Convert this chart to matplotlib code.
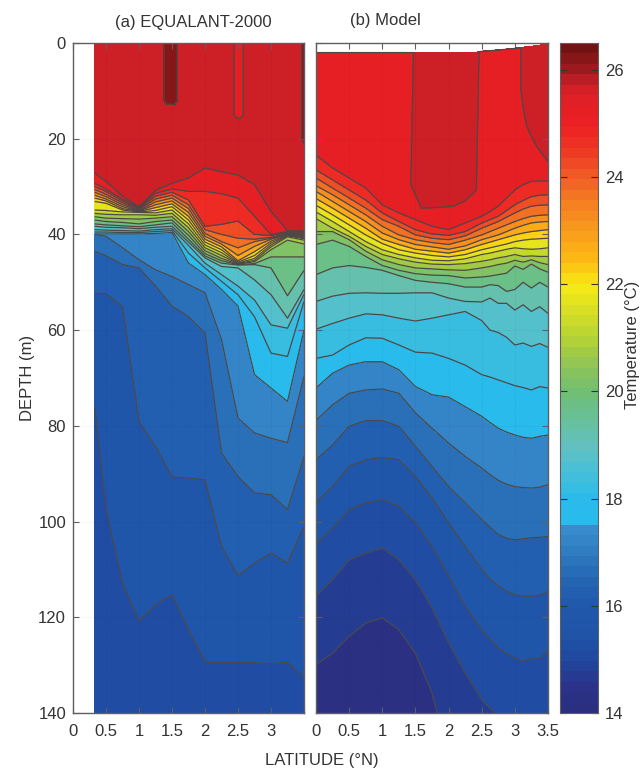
import numpy as np
import matplotlib
matplotlib.use("Agg")
from matplotlib import pyplot as plt
from matplotlib.colors import LinearSegmentedColormap, Normalize

plt.rcParams["font.family"] = ["Liberation Sans", "DejaVu Sans"]

# colour bar
cbar_temp = [14, 14.5, 15, 15.5, 16, 16.5, 17, 17.5, 17.6, 18, 18.5, 19, 19.5, 20, 20.5,
             21, 21.5, 22, 22.5, 23, 23.5, 24, 24.5, 25, 25.5, 25.75, 26, 26.5]
cbar_cols = ["#2b2e7e", "#2a3389", "#20479f", "#1f55a8", "#2058ac", "#2466b3", "#2f7bc0",
             "#3a8fd0", "#29bbec", "#29bbec", "#45bfd8", "#62c0c0", "#68c09a", "#6fbf74",
             "#8ec458", "#b3d235", "#d6de26", "#f6ea14", "#fdb913", "#f99d1c", "#f58220",
             "#f15f26", "#ee3a24", "#ed2024", "#e01f26", "#cf1f26", "#a01b1f", "#6d1212"]
cbar_ticks = [14, 16, 18, 20, 22, 24, 26]
levels = [14 + 0.5 * i for i in range(26)]

# (a) depth of each isotherm at each latitude
a_lat = [0.33, 0.5, 0.75, 1, 1.25, 1.5, 1.75, 2, 2.25, 2.5, 2.75, 3, 3.25, 3.5]
a_temp = [15.2, 15.5, 16, 16.5, 17, 17.5, 18, 18.5, 19, 19.5, 20, 20.5, 21, 21.5, 22, 22.5,
          23, 23.5, 24, 24.5, 25, 25.5, 25.7]
a_depth = [
    [140] * 14,
    [76, 97.5, 112.8, 120.8, 117.4, 115.3, 122.6, 129.4, 129.4, 129.4, 129.5, 129.7, 129.4, 132.7],
    [52.3, 52.4, 55.1, 79.1, 84.3, 90.7, 90.9, 91.3, 105.2, 111.3, 108.7, 106.6, 108.7, 101],
    [43.5, 44.5, 46.3, 47, 50.8, 55, 57.2, 60.6, 85.7, 90.6, 94, 94.4, 97.5, 86.4],
    [40, 40.4, 42.8, 45.3, 47.4, 48.8, 50.5, 52.2, 62, 78.4, 81.5, 82.6, 83.5, 69.7],
    [39.9, 39.9, 39.9, 39.9, 39.8, 39.6, 46, 48.4, 51.5, 55, 69.3, 72.1, 74.9, 60],
    [39.5, 39.5, 39.6, 39.6, 39.4, 39.2, 43.9, 47, 49.8, 52.6, 57.2, 64.8, 65.5, 54],
    [39, 39.1, 39.2, 39.3, 39, 38.8, 42.3, 46, 48.4, 50.8, 53.7, 58.9, 59.6, 52.5],
    [38.3, 38.5, 38.6, 38.8, 38.5, 38.3, 41.6, 44.9, 46.7, 47, 49.5, 52.6, 57.5, 51.5],
    [37.8, 38, 38.2, 38.4, 38, 37.6, 41, 44.5, 46, 46.4, 46.3, 47, 52.8, 47.5],
    [37, 37.3, 37.5, 37.8, 37.3, 37, 40.2, 44, 45.5, 46.3, 46.1, 44.7, 44.7, 44.7],
    [36.3, 36.6, 36.7, 36.8, 36.6, 36.3, 39.4, 43.4, 45, 46.2, 45.7, 43.2, 41.2, 42],
    [35.6, 35.8, 35.9, 35.9, 36, 35.6, 38.6, 42.8, 44.4, 46.1, 45.4, 42.6, 40.5, 41.2],
    [34.9, 35, 35.3, 35.4, 35.5, 34.9, 37.8, 42.2, 43.8, 46, 45, 42.2, 40.3, 40.9],
    [33.1, 33.5, 34.9, 35.3, 35, 34.2, 37, 41.6, 43.2, 45.8, 44.4, 41.8, 40.2, 40.7],
    [32.4, 33, 34.6, 35.2, 34.4, 33.6, 36.2, 41, 42.6, 45.5, 43.6, 41.4, 40.1, 40.5],
    [31.8, 32.6, 34.2, 35.1, 33.8, 33, 35.4, 40.4, 42, 44.4, 42.5, 41, 40, 40.3],
    [31.2, 32.1, 33.8, 35, 33.2, 32.4, 34.6, 39.8, 41.5, 42.8, 41.5, 40.8, 39.9, 40.1],
    [30.6, 31.6, 33.4, 34.8, 32.6, 31.8, 33.8, 39, 40, 40.8, 41, 40.6, 39.8, 39.9],
    [30, 31, 33, 34.6, 32, 31.2, 32.8, 38.3, 37.9, 37.2, 40, 40.2, 39.6, 39.7],
    [29.3, 30.5, 32.6, 34.4, 31.4, 30.5, 31, 31, 31.5, 32.4, 36.2, 40, 39.4, 39.5],
    [27.2, 28.9, 32, 34.2, 30.8, 29.3, 28.2, 26.1, 26.9, 27.6, 29.6, 35.2, 39.2, 39.3],
    [0] * 14,
]

# (a) warm and cool patches under the surface
patch_lat = [0.33, 1.34, 1.42, 1.54, 1.62, 2.40, 2.48, 2.54, 2.62, 3.43, 3.5]
patch_depth = [0, 12, 13.6, 15, 16.4, 20, 22, 26]
patch_temp = [
    [25.7, 25.7, 26.3, 26.3, 25.7, 25.7, 25.3, 25.3, 25.7, 25.7, 26.3],
    [25.7, 25.7, 26.3, 26.3, 25.7, 25.7, 25.3, 25.3, 25.7, 25.7, 26.3],
    [25.7, 25.7, 25.7, 25.7, 25.7, 25.7, 25.3, 25.3, 25.7, 25.7, 26.3],
    [25.7, 25.7, 25.7, 25.7, 25.7, 25.7, 25.3, 25.3, 25.7, 25.7, 26.3],
    [25.7, 25.7, 25.7, 25.7, 25.7, 25.7, 25.7, 25.7, 25.7, 25.7, 26.3],
    [25.7, 25.7, 25.7, 25.7, 25.7, 25.7, 25.7, 25.7, 25.7, 25.7, 26.3],
    [25.7, 25.7, 25.7, 25.7, 25.7, 25.7, 25.7, 25.7, 25.7, 25.7, 25.7],
    [25.7, 25.7, 25.7, 25.7, 25.7, 25.7, 25.7, 25.7, 25.7, 25.7, 25.7],
]

# (b) same thing for the model
b_lat = [0, 0.25, 0.5, 0.75, 1, 1.25, 1.5, 1.75, 2, 2.25, 2.5, 2.625, 2.75, 2.875, 3, 3.125, 3.25, 3.375, 3.5]
b_warm_lat = [0, 0.75, 1.47, 1.43, 1.59, 1.8, 2.07, 2.25, 2.42, 2.46, 2.8, 3.09, 3.09, 3.13, 3.18, 3.26, 3.33, 3.42, 3.5]
b_temp = [14.2, 14.5, 15, 15.5, 16, 16.5, 17, 17.5, 18, 18.5, 19, 19.5, 20, 20.5, 21, 21.5,
          22, 22.5, 23, 23.5, 24, 24.5, 25, 25.5, 25.7]
b_depth = [
    [210] * 19,
    [129.9, 127.5, 124, 121.2, 120.1, 122.6, 127.5, 135.8, 149, 165, 180, 185, 190, 195, 200, 200, 200, 200, 200],
    [115.6, 112.1, 108, 106.6, 105.5, 108, 112.1, 118, 125.3, 131.6, 137.2, 139, 140.5, 143, 146, 147, 148, 149, 150],
    [104.8, 101.4, 97.5, 96.1, 95.4, 96.8, 100.3, 105.2, 111.4, 117.7, 122.6, 124.6, 126.4, 127.6, 128.5, 129.2, 128.5, 128.6, 127.1],
    [96, 92.7, 88.5, 87.1, 86.6, 87.1, 90.6, 95.1, 100.3, 105.2, 110, 112, 113.5, 114.6, 115.3, 115.6, 115.6, 115.4, 114.6],
    [87.1, 84, 80.1, 78.9, 78.9, 80.1, 84.3, 88.5, 92.7, 96.1, 99.6, 101.2, 102.7, 103.5, 103.8, 103.6, 103.4, 103.3, 103.1],
    [78.9, 75.6, 73.2, 72.5, 72.3, 73.2, 77.3, 80.5, 83.6, 86.4, 88.8, 90.2, 91.4, 92.2, 92.7, 92.9, 93, 92.8, 92.3],
    [72.1, 69, 67.3, 66.6, 66.6, 68.3, 71.8, 73.5, 74, 76, 78, 79.3, 80.5, 81.3, 81.9, 82.4, 82.6, 82.2, 81.9],
    [65.9, 65.2, 63.1, 61.6, 61.7, 63.1, 64.6, 64.8, 65.9, 67.3, 69.3, 69.8, 70.4, 71, 71.6, 72, 72.5, 71.8, 72.1],
    [59.8, 58.6, 57.5, 56.6, 56.8, 57.5, 58.1, 57.5, 56.8, 56.1, 58, 60, 60.5, 61.5, 63.1, 62.7, 63.4, 62.8, 63.6],
    [54, 52.9, 52.3, 52.2, 52.3, 52.3, 52.2, 52.2, 53.3, 54, 54.1, 53.3, 54.4, 54.4, 55.8, 54.7, 56.1, 55.1, 56.5],
    [48.4, 47, 46.5, 46.9, 47.5, 48.6, 49.6, 50, 50.3, 51, 51, 50.5, 50.7, 51.9, 51.5, 50, 51.2, 50, 51],
    [42.1, 41.2, 42.5, 44.6, 46.5, 47.5, 48.2, 48.5, 48.6, 49.1, 48.9, 48.7, 48.4, 48.1, 46.6, 47.3, 46.2, 47.2, 47.9],
    [39.4, 39.4, 41.1, 43.5, 45.3, 46.3, 47, 47.2, 47.4, 47.5, 47, 46.7, 46.3, 46, 45.4, 45.8, 45.3, 45.9, 46.3],
    [36.7, 38.7, 40.4, 42.5, 44.2, 45.1, 45.8, 46.2, 46.3, 46.1, 45.6, 45.3, 44.9, 44.6, 44.2, 44.6, 44.5, 44.6, 44.6],
    [35.3, 37.3, 39.4, 41.5, 43.2, 44.2, 44.9, 45.4, 45.5, 45.1, 44.2, 43.9, 43.5, 43.1, 42.8, 43, 43.1, 43, 42.8],
    [33.9, 35.9, 38, 40.1, 41.9, 43.2, 43.9, 44.4, 44.7, 44.2, 43.2, 42.8, 42.4, 42, 41.5, 41.2, 41, 40.9, 40.8],
    [32.5, 34.5, 36.6, 38.7, 41, 42.1, 43.1, 43.5, 43.9, 43.2, 42.1, 41.6, 41.1, 40.6, 40.1, 39.7, 39.4, 39.2, 39],
    [31, 33.1, 35.2, 37.3, 39.7, 41.1, 42.1, 42.6, 43.1, 42.4, 41.1, 40.6, 40.1, 39.4, 38.7, 38.1, 37.6, 37.4, 37.3],
    [29.8, 31.7, 33.8, 35.9, 38.3, 40.1, 41.1, 41.7, 42.1, 41.2, 40.1, 39.4, 38.7, 38, 37.3, 36.7, 36.2, 36, 35.9],
    [28.2, 30.3, 32.4, 34.5, 36.9, 38.3, 40.1, 40.8, 41.1, 40.3, 38.7, 38, 37.3, 36.4, 35.5, 34.7, 34.1, 33.9, 33.8],
    [26.5, 28.6, 30.7, 32.8, 35.5, 37.3, 39, 39.9, 40.2, 39.4, 37.6, 36.9, 36.2, 35, 33.8, 32.9, 32.1, 31.8, 31.7],
    [23.4, 26.1, 28.2, 30.3, 33.8, 35.5, 36.9, 38.3, 39, 37.6, 36.2, 35.2, 34.1, 32.4, 30.7, 29.6, 28.9, 28.8, 28.9],
    [2, 2, 2, 29.6, 34.5, 34.4, 34.1, 33, 30.7, 1.8, 1.4, 1, 9.8, 14, 17.4, 19.8, 21.6, 23.3, 24.8],
    [2, 2, 2, 2, 2, 2, 2, 2, 2, 1.8, 1.4, 1, 1, 0.9, 0.8, 0.7, 0.6, 0.4, 0.3],
]

cmap = LinearSegmentedColormap.from_list(
    "temp", [((t - 14) / 12.5, c) for t, c in zip(cbar_temp, cbar_cols)], N=256)
norm = Normalize(14, 26.5)
line_col = "#4d4848"
grey = "#5f5f5f"
text_col = "#333333"
W, H = 641, 769


def box(left, right, top, bottom):
    return [left / W, 1 - bottom / H, (right - left) / W, (bottom - top) / H]


def fill(ax, x, y, z):
    cs = ax.contourf(x, y, z, levels=levels, cmap=cmap, norm=norm)
    cs.set_edgecolor("face")
    cs.set_linewidth(0.3)
    ax.contour(x, y, z, levels=levels, colors=line_col, linewidths=0.9)


def style(ax):
    ax.set_xlim(0, 3.5)
    ax.set_ylim(140, 0)
    ax.set_xticks([0, 0.5, 1, 1.5, 2, 2.5, 3, 3.5])
    ax.set_yticks(range(0, 141, 20))
    ax.tick_params(direction="in", top=True, right=True, length=4, width=0.8, color=grey,
                   labelsize=12, labelcolor=text_col)
    ax.tick_params(axis="x", pad=8)
    ax.tick_params(axis="y", pad=5)
    ax.grid(True, ls=":", lw=0.5, color="#000000", alpha=0.12)
    for s in ax.spines.values():
        s.set_color(grey)
        s.set_linewidth(1.0)
        s.set_zorder(6)


fig = plt.figure(figsize=(W / 100, H / 100), dpi=100)

ax1 = fig.add_axes(box(73, 304, 43, 713))
xa = np.tile(a_lat, (len(a_temp), 1))
za = np.tile(np.array(a_temp)[:, None], (1, len(a_lat)))
fill(ax1, xa, np.array(a_depth), za)
fill(ax1, patch_lat, patch_depth, patch_temp)
style(ax1)
ax1.set_xticklabels(["0", "0.5", "1", "1.5", "2", "2.5", "3", ""])
ax1.set_ylabel("DEPTH (m)", fontsize=12, color=text_col, labelpad=2)

ax2 = fig.add_axes(box(316, 548, 43, 713))
xb = np.tile(b_lat, (len(b_temp), 1))
xb[-2] = b_warm_lat
xb[-1] = b_warm_lat
zb = np.tile(np.array(b_temp)[:, None], (1, len(b_lat)))
fill(ax2, xb, np.array(b_depth), zb)
style(ax2)
ax2.set_xticklabels(["0", "0.5", "1", "1.5", "2", "2.5", "3", "3.5"])
ax2.set_yticklabels([])

cax = fig.add_axes(box(560, 598, 43, 713))
edges = np.linspace(14, 26.5, 65)
cax.pcolormesh([0, 1], edges, ((edges[:-1] + edges[1:]) / 2)[:, None], cmap=cmap, norm=norm)
cax.set_xticks([])
cax.set_yticks(cbar_ticks)
cax.set_ylim(14, 26.5)
cax.tick_params(direction="in", left=True, right=True, labelleft=False, labelright=True,
                length=5, width=0.8, color="#333333", labelsize=12, labelcolor=text_col, pad=5)
for s in cax.spines.values():
    s.set_color(grey)

fig.text(193 / W, 1 - 22 / H, "(a) EQUALANT-2000", fontsize=12, color=text_col, ha="center", va="center")
fig.text(385 / W, 1 - 21 / H, "(b) Model", fontsize=12, color=text_col, ha="center", va="center")
fig.text(322 / W, 1 - 760 / H, "LATITUDE (\u00b0N)", fontsize=12, color=text_col, ha="center", va="center")
fig.text(633 / W, 1 - 345 / H, "Temperature (\u00b0C)", fontsize=12, color=text_col, rotation=90,
         ha="center", va="center")

fig.savefig("out.png", dpi=100)
